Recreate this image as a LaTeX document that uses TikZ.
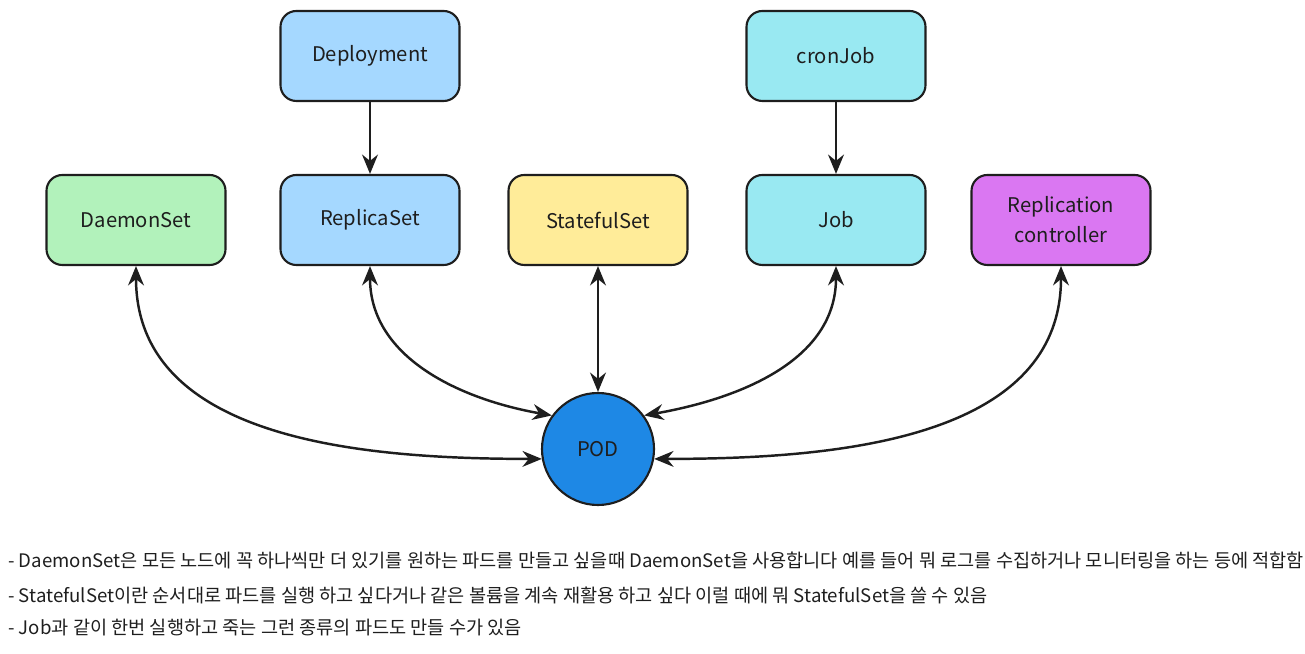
\documentclass[tikz,border=0pt]{standalone}
\usepackage{fontspec}
\setmainfont{Noto Sans CJK KR}
\usepackage{tikz}
\usetikzlibrary{arrows.meta, positioning, calc}

\definecolor{dsgreen}{HTML}{B2F2BB}
\definecolor{rsblue}{HTML}{A5D8FF}
\definecolor{stsyellow}{HTML}{FFEC99}
\definecolor{jobcyan}{HTML}{99E9F2}
\definecolor{rcpurple}{HTML}{DA77F2}
\definecolor{podblue}{HTML}{1E88E5}
\definecolor{ink}{HTML}{1E1E1E}

\begin{document}
\begin{tikzpicture}[
  ctrl/.style={draw=ink, line width=1.2pt, rounded corners=9pt, minimum width=3.58cm, minimum height=1.8cm, align=center, font=\fontsize{11.5}{17}\selectfont, text=ink, fill=#1},
  podnode/.style={draw=ink, line width=1.2pt, circle, minimum size=2.24cm, fill=podblue, font=\fontsize{11.5}{13}\selectfont, text=ink},
  note/.style={anchor=west, inner sep=0pt, font=\fontsize{10.6}{12}\selectfont, text=ink},
  arr/.style={-{Stealth[length=11pt, width=9pt]}, line width=1.4pt, draw=ink},
  link/.style={{Stealth[length=11pt, width=9pt]}-{Stealth[length=11pt, width=9pt]}, line width=1.4pt, draw=ink}
]
\useasboundingbox (0,0) rectangle (26.1,13.08);

\node[ctrl=rsblue] (deploy) at (7.40, 11.96) {Deployment};
\node[ctrl=jobcyan] (cronjob) at (16.72, 11.96) {cronJob};

\node[ctrl=dsgreen] (daemonset) at (2.72, 8.68) {DaemonSet};
\node[ctrl=rsblue] (replicaset) at (7.40, 8.68) {ReplicaSet};
\node[ctrl=stsyellow] (statefulset) at (11.96, 8.68) {StatefulSet};
\node[ctrl=jobcyan] (job) at (16.72, 8.68) {Job};
\node[ctrl=rcpurple] (rc) at (21.22, 8.68) {Replication\\controller};

\node[podnode] (pod) at (11.96, 4.10) {POD};

\draw[arr] (deploy) -- (replicaset);
\draw[arr] (cronjob) -- (job);

\draw[link] (daemonset.south) to[out=-90, in=180] (pod.190);
\draw[link] (replicaset.south) to[out=-90, in=170] (pod.144);
\draw[link] (statefulset) -- (pod);
\draw[link] (job.south) to[out=-90, in=10] (pod.36);
\draw[link] (rc.south) to[out=-90, in=0] (pod.-10);

\node[note] (line1) at (0.16, 1.88) {- DaemonSet은 모든 노드에 꼭 하나씩만 더 있기를 원하는 파드를 만들고 싶을때 DaemonSet을 사용합니다 예를 들어 뭐 로그를 수집하거나 모니터링을 하는 등에 적합함};
\node[note] (line2) at (0.16, 1.18) {- StatefulSet이란 순서대로 파드를 실행 하고 싶다거나 같은 볼륨을 계속 재활용 하고 싶다 이럴 때에 뭐 StatefulSet을 쓸 수 있음};
\node[note] (line3) at (0.16, 0.52) {- Job과 같이 한번 실행하고 죽는 그런 종류의 파드도 만들 수가 있음};

\end{tikzpicture}
\end{document}
